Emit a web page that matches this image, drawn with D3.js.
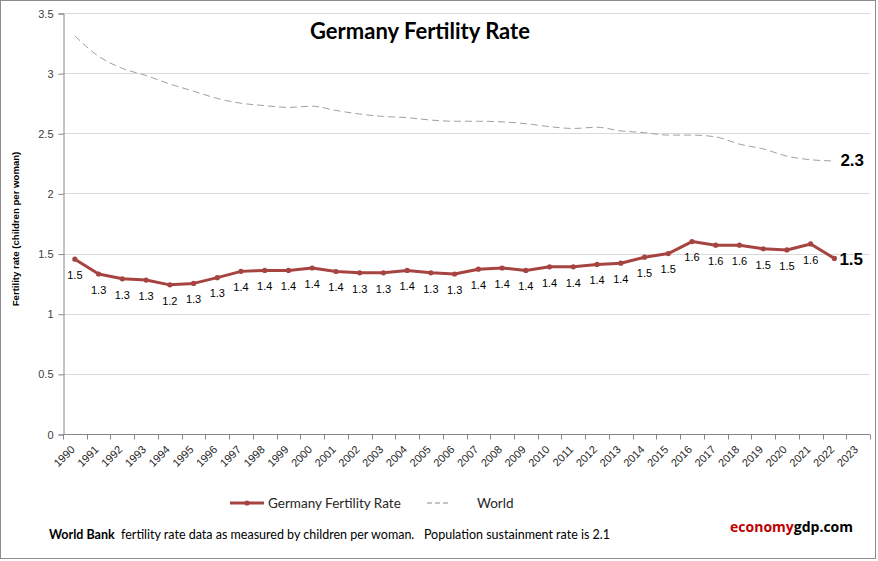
<!DOCTYPE html>
<html>
<head>
<meta charset="utf-8">
<script src="https://cdn.jsdelivr.net/npm/d3@7"></script>
<style>
  body { margin: 0; background: #fff; }
  text { font-family: "Liberation Sans", Arial, sans-serif; }
</style>
</head>
<body>
<div id="chart"></div>
<script>
// years on the category axis
var years = d3.range(1990, 2024).map(String);

// Germany fertility rate (children per woman), 1990-2022
var germany = [1.453, 1.33, 1.29, 1.28, 1.24, 1.252, 1.30, 1.352, 1.36, 1.36,
  1.38, 1.351, 1.34, 1.34, 1.36, 1.34, 1.33, 1.37, 1.38, 1.36,
  1.39, 1.39, 1.41, 1.42, 1.47, 1.50, 1.60, 1.57, 1.57, 1.54,
  1.53, 1.58, 1.46];

// World fertility rate, 1990-2022
var world = [3.31, 3.14, 3.04, 2.98, 2.91, 2.85, 2.79, 2.75, 2.73, 2.715,
  2.725, 2.69, 2.66, 2.64, 2.63, 2.61, 2.60, 2.60, 2.595, 2.58,
  2.555, 2.54, 2.55, 2.52, 2.505, 2.485, 2.485, 2.47, 2.41, 2.37,
  2.31, 2.28, 2.27];

var yTicks = [0, 0.5, 1, 1.5, 2, 2.5, 3, 3.5];

var W = 878, H = 561;
var margin = {left: 63, right: 8, top: 13, bottom: 127};

var svg = d3.select('#chart').append('svg')
  .attr('width', W)
  .attr('height', H);

svg.append('rect')
  .attr('x', 0.5).attr('y', 0.5)
  .attr('width', W - 3).attr('height', H - 3)
  .style('fill', '#fff')
  .style('stroke', '#8c8c8c');

var x = d3.scaleBand()
  .domain(years)
  .range([margin.left, W - margin.right]);

var y = d3.scaleLinear()
  .domain([0, 3.5])
  .range([H - margin.bottom, margin.top]);

// gridlines
svg.append('g')
  .selectAll('line')
  .data(yTicks.slice(1))
  .enter().append('line')
  .attr('x1', margin.left)
  .attr('x2', W - margin.right)
  .attr('y1', function(d){ return Math.round(y(d)) + 0.5; })
  .attr('y2', function(d){ return Math.round(y(d)) + 0.5; })
  .style('stroke', '#d9d9d9');

// y axis
var yAxis = svg.append('g')
  .attr('transform', 'translate(' + (margin.left + 0.5) + ',0.5)')
  .call(d3.axisLeft(y).tickValues(yTicks).tickSize(5).tickPadding(5)
    .tickFormat(function(d){ return d; }));
yAxis.select('.domain').style('stroke', '#868686');
yAxis.selectAll('.tick line').style('stroke', '#868686');
yAxis.selectAll('text')
  .style('font-size', '11px')
  .style('fill', '#404040')
  .style('font-family', '"Liberation Sans", Arial, sans-serif');

// x axis: ticks between categories
var xAxisG = svg.append('g')
  .attr('transform', 'translate(0,' + (Math.round(y(0)) + 0.5) + ')');
xAxisG.append('line')
  .attr('x1', margin.left).attr('x2', W - margin.right)
  .style('stroke', '#868686');
xAxisG.selectAll('.xtick')
  .data(years.concat(['end']))
  .enter().append('line')
  .attr('x1', function(d, i){ return Math.round(margin.left + i * x.step()) + 0.5; })
  .attr('x2', function(d, i){ return Math.round(margin.left + i * x.step()) + 0.5; })
  .attr('y1', 0).attr('y2', 5)
  .style('stroke', '#868686');
xAxisG.selectAll('.xlabel')
  .data(years)
  .enter().append('text')
  .attr('transform', function(d){
    return 'translate(' + (x(d) + x.bandwidth() / 2 - 2) + ',13) rotate(-45)';
  })
  .attr('text-anchor', 'end')
  .attr('dy', '0.35em')
  .style('font-size', '11px')
  .style('fill', '#262626')
  .text(function(d){ return d; });

var cx = function(d, i){ return x(years[i]) + x.bandwidth() / 2; };

// world line
svg.append('path')
  .datum(world)
  .attr('d', d3.line().x(cx).y(function(d){ return y(d); }).curve(d3.curveMonotoneX))
  .style('fill', 'none')
  .style('stroke', '#a0a0a0')
  .style('stroke-width', 1)
  .style('stroke-dasharray', '7,4');

// germany line
svg.append('path')
  .datum(germany)
  .attr('d', d3.line().x(cx).y(function(d){ return y(d); }))
  .style('fill', 'none')
  .style('stroke', '#a64442')
  .style('stroke-width', 3)
  .style('stroke-linejoin', 'round');

svg.append('g')
  .selectAll('circle')
  .data(germany)
  .enter().append('circle')
  .attr('cx', cx)
  .attr('cy', function(d){ return y(d); })
  .attr('r', 2.6)
  .style('fill', '#a64442');

// data labels below each point (last one labelled large)
var fmt = d3.format('.1f');
svg.append('g')
  .selectAll('text')
  .data(germany.slice(0, germany.length - 1))
  .enter().append('text')
  .attr('x', cx)
  .attr('y', function(d){ return y(d) + 16; })
  .attr('text-anchor', 'middle')
  .attr('dy', '0.35em')
  .style('font-size', '11px')
  .style('fill', '#000')
  .text(function(d){ return fmt(d); });

var last = germany.length - 1;
svg.append('text')
  .attr('x', cx(null, last) + 5)
  .attr('y', y(germany[last]) + 1)
  .attr('dy', '0.35em')
  .style('font-size', '17px')
  .style('font-weight', 'bold')
  .text(fmt(germany[last]));

svg.append('text')
  .attr('x', cx(null, world.length - 1) + 6)
  .attr('y', y(world[world.length - 1]) - 1)
  .attr('dy', '0.35em')
  .style('font-size', '17px')
  .style('font-weight', 'bold')
  .text(fmt(world[world.length - 1]));

// title
svg.append('text')
  .attr('x', 420)
  .attr('y', 39)
  .attr('text-anchor', 'middle')
  .style('font-family', 'Lato, sans-serif')
  .style('font-size', '22px')
  .style('font-weight', 'bold')
  .text('Germany Fertility Rate');

// y axis title
svg.append('text')
  .attr('transform', 'translate(19,229) rotate(-90)')
  .attr('text-anchor', 'middle')
  .style('font-size', '9.6px')
  .style('font-weight', 'bold')
  .text('Fertility rate (children per woman)');

// legend
var legend = svg.append('g').attr('transform', 'translate(0,503)');
legend.append('line')
  .attr('x1', 230).attr('x2', 264)
  .style('stroke', '#a64442').style('stroke-width', 3);
legend.append('circle')
  .attr('cx', 247).attr('r', 2.6).style('fill', '#a64442');
legend.append('text')
  .attr('x', 268).attr('dy', '0.35em')
  .style('font-family', 'Lato, sans-serif')
  .style('font-size', '13.5px')
  .style('fill', '#262626')
  .text('Germany Fertility Rate');
legend.append('line')
  .attr('x1', 427).attr('x2', 448)
  .style('stroke', '#8c8c8c').style('stroke-dasharray', '5,3');
legend.append('text')
  .attr('x', 477).attr('dy', '0.35em')
  .style('font-family', 'Lato, sans-serif')
  .style('font-size', '13.5px')
  .style('fill', '#262626')
  .text('World');

// footnote
var note = svg.append('text')
  .attr('x', 49).attr('y', 539)
  .style('font-family', 'Lato, sans-serif')
  .style('font-size', '12.5px')
  .style('fill', '#000');
note.append('tspan').style('font-weight', 'bold').text('World Bank');
note.append('tspan').text('  fertility rate data as measured by children per woman.   Population sustainment rate is 2.1')
  .attr('xml:space', 'preserve');

var brand = svg.append('text')
  .attr('x', 853).attr('y', 532)
  .attr('text-anchor', 'end')
  .style('font-family', '"Open Sans", sans-serif')
  .style('font-size', '14px')
  .style('font-weight', 'bold');
brand.append('tspan').style('fill', '#c00000').text('economy');
brand.append('tspan').style('fill', '#000').text('gdp.com');
</script>
</body>
</html>
